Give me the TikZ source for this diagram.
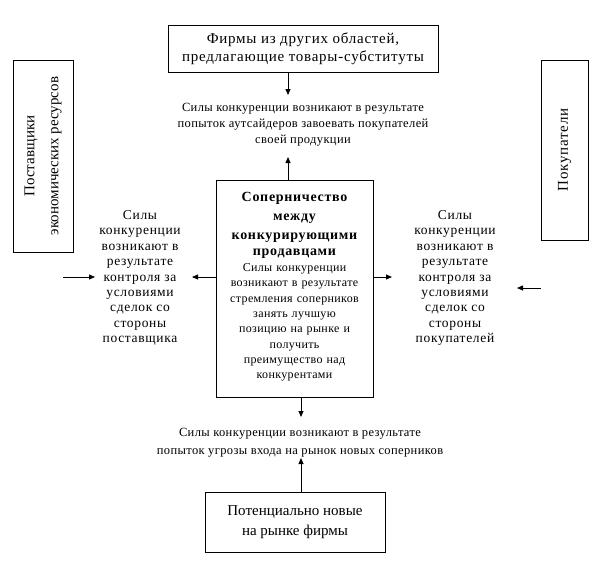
\documentclass[tikz,border=0pt]{standalone}
\usepackage{fontspec}
\setmainfont{Liberation Serif}
\newcommand\lspc[1]{\addfontfeatures{LetterSpace=#1}}
\usetikzlibrary{arrows.meta}
\begin{document}
\begin{tikzpicture}[x=1pt,y=-1pt,
  box/.style={draw,line width=0.9pt,inner sep=0pt,align=center},
  lbl/.style={inner sep=0pt,align=center,font=\fontsize{12.5}{16}\selectfont\lspc{3}},
  side/.style={inner sep=0pt,align=center,font=\fontsize{13.5}{15.4}\selectfont\lspc{5}},
  boxfont/.style={font=\fontsize{15}{18}\selectfont\lspc{5}},
  arr/.style={line width=0.8pt,-{Triangle[length=6pt,width=5pt]}}]
\useasboundingbox (0,0) rectangle (613,565);
\node[box,boxfont,minimum width=270,minimum height=47] (top) at (303,48.5) {Фирмы из других областей,\\предлагающие товары-субституты};
\node[lbl] (toptext) at (303,125) {Силы конкуренции возникают в результате\\попыток аутсайдеров завоевать покупателей\\своей продукции};
\node[box,minimum width=157,minimum height=217] (main) at (294.5,288.5) {};
\node[inner sep=0pt,align=center,text width=156,font=\fontsize{12}{15.3}\selectfont\lspc{3}] (maintext) at (294.5,287) {{\fontsize{14}{19}\selectfont\bfseries\lspc{5} Соперничество\\между\\конкурирующими\\продавцами}\\[1pt] Силы конкуренции\\возникают в результате\\стремления соперников\\занять лучшую\\позицию на рынке и\\получить\\преимущество над\\конкурентами};
\node[box,boxfont,rotate=90,minimum width=192,minimum height=60,font=\fontsize{15}{24}\selectfont] (sup) at (43,156) {Поставщики\\экономических ресурсов};
\node[box,boxfont,rotate=90,minimum width=180,minimum height=47] (buy) at (564.5,150) {Покупатели};
\node[side] (lefttext) at (140,278) {Силы\\конкуренции\\возникают в\\результате\\контроля за\\условиями\\сделок со\\стороны\\поставщика};
\node[side] (righttext) at (455,278) {Силы\\конкуренции\\возникают в\\результате\\контроля за\\условиями\\сделок со\\стороны\\покупателей};
\node[lbl,font=\fontsize{12.5}{18}\selectfont\lspc{3}] (bottext) at (300,443) {Силы конкуренции возникают в результате\\попыток угрозы входа на рынок новых соперников};
\node[box,boxfont,minimum width=180,minimum height=60,font=\fontsize{15}{20}\selectfont] (new) at (295,522) {Потенциально новые\\на рынке фирмы};
\coordinate (a1) at (288,95);
\coordinate (a2) at (288,157);
\coordinate (a3) at (301,417);
\coordinate (a4) at (301,458);
\coordinate (a5) at (192,277);
\coordinate (a6) at (392,277);
\coordinate (s1) at (63,277);
\coordinate (a7) at (95,277);
\coordinate (s2) at (541,288);
\coordinate (a8) at (517,288);
\draw[arr] (top.south -| a1) -- (a1);
\draw[arr] (main.north -| a2) -- (a2);
\draw[arr] (main.south -| a3) -- (a3);
\draw[arr] (new.north -| a4) -- (a4);
\draw[arr] (main.west |- a5) -- (a5);
\draw[arr] (main.east |- a6) -- (a6);
\draw[arr] (s1) -- (a7);
\draw[arr] (s2) -- (a8);
\end{tikzpicture}
\end{document}
